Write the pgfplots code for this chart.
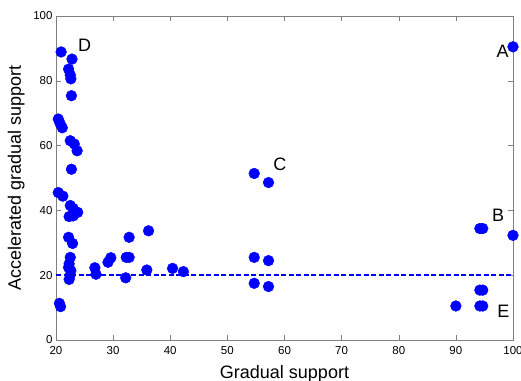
\documentclass[border=0pt]{standalone}
\usepackage{pgfplots}
\pgfplotsset{compat=1.18}
\usepackage{fontspec}
\setmainfont{Liberation Sans}
\definecolor{dotblue}{RGB}{0,0,255}
\definecolor{axgray}{RGB}{128,128,128}

\pgfplotstableread{
x     y
20.9  88.9
22.8  86.7
22.2  83.6
22.5  81.8
22.6  80.6
22.7  75.4
20.4  68.2
20.7  66.9
21.1  65.5
22.5  61.5
23.2  60.5
23.7  58.4
22.7  52.7
20.4  45.5
21.2  44.4
22.5  41.5
23.0  40.6
23.8  39.4
22.3  38.1
23.0  38.3
22.2  31.7
22.9  29.8
22.5  25.5
22.3  23.5
22.2  22.4
22.6  21.4
22.5  20.1
22.3  18.7
26.8  22.3
27.0  20.3
29.1  24.0
29.6  25.4
32.3  25.5
32.8  25.5
32.2  19.2
32.8  31.7
36.2  33.7
35.9  21.6
40.4  22.1
42.3  21.1
20.6  11.3
20.8  10.3
54.7  51.4
57.2  48.6
54.7  25.5
57.2  24.5
54.7  17.5
57.2  16.5
100   90.5
94.2  34.4
94.7  34.4
100   32.3
94.2  15.4
94.7  15.4
90.0  10.5
94.2  10.5
94.7  10.5
}\supportdata

\begin{document}
\begin{tikzpicture}
\begin{axis}[
  scale only axis,
  width=457bp, height=324bp,
  xmin=20, xmax=100, ymin=0, ymax=100,
  xtick={20,30,...,100}, ytick={0,20,...,100},
  axis line style={axgray},
  tick style={axgray, line width=0.5bp},
  major tick length=5bp,
  tick align=inside,
  ticklabel style={font=\fontsize{11.5bp}{14bp}\selectfont, text=black},
  xticklabel style={yshift=-2.5bp},
  /pgf/number format/assume math mode=true,
  xlabel={Gradual support},
  ylabel={Accelerated gradual support},
  label style={font=\fontsize{18bp}{21bp}\selectfont},
  xlabel style={at={(rel axis cs:0.5,0)}, anchor=base, yshift=-38bp},
  ylabel style={at={(rel axis cs:0,0.5)}, anchor=base, rotate=0, yshift=35bp},
  clip=false,
]
\addplot[dotblue, dashed, line width=1.6bp, dash pattern=on 5bp off 2.5bp]
  coordinates {(20,20) (100,20)};
\addplot[only marks, mark=*, mark size=5.4bp, color=dotblue,
  mark options={draw=dotblue, fill=dotblue}]
  table[x=x, y=y] {\supportdata};
\begin{scope}[every node/.style={font=\fontsize{18bp}{21bp}\selectfont}]
\node at (axis cs:25.0,90.8) {D};
\node at (axis cs:98.2,89.0) {A};
\node at (axis cs:97.4,38.6) {B};
\node at (axis cs:59.2,54.3) {C};
\node at (axis cs:98.3,9.0) {E};
\end{scope}
\end{axis}
\pgfresetboundingbox
\useasboundingbox ([xshift=-56bp,yshift=-40bp]current axis.south west)
  rectangle ([xshift=8bp,yshift=16bp]current axis.north east);
\end{tikzpicture}
\end{document}
